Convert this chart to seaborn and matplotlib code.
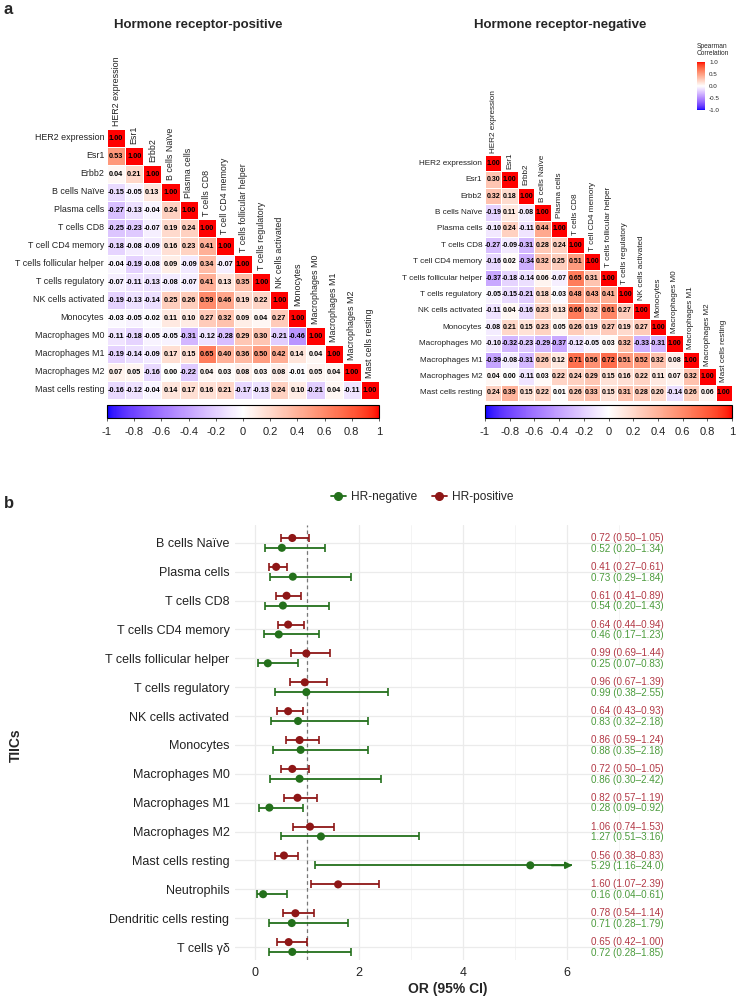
import numpy as np
import pandas as pd
import matplotlib
matplotlib.use("Agg")
import matplotlib.pyplot as plt
import seaborn as sns
from matplotlib import font_manager
from matplotlib.colors import LinearSegmentedColormap
from matplotlib.lines import Line2D

sns.set_theme(style="white")
_names = {f.name for f in font_manager.fontManager.ttflist}
NARROW = "Liberation Sans Narrow" if "Liberation Sans Narrow" in _names else "Liberation Sans"
plt.rcParams["font.family"] = ["Liberation Sans", "DejaVu Sans"]

# ---------------- data ----------------
heat_labels = ["HER2 expression", "Esr1", "Erbb2", "B cells Naïve", "Plasma cells",
               "T cells CD8", "T cell CD4 memory", "T cells follicular helper",
               "T cells regulatory", "NK cells activated", "Monocytes",
               "Macrophages M0", "Macrophages M1", "Macrophages M2", "Mast cells resting"]

hr_pos_lower = [
    [1.00],
    [0.53, 1.00],
    [0.04, 0.21, 1.00],
    [-0.15, -0.05, 0.13, 1.00],
    [-0.27, -0.13, -0.04, 0.24, 1.00],
    [-0.25, -0.23, -0.07, 0.19, 0.24, 1.00],
    [-0.18, -0.08, -0.09, 0.16, 0.23, 0.41, 1.00],
    [-0.04, -0.19, -0.08, 0.09, -0.09, 0.34, -0.07, 1.00],
    [-0.07, -0.11, -0.13, -0.08, -0.07, 0.41, 0.13, 0.35, 1.00],
    [-0.19, -0.13, -0.14, 0.25, 0.26, 0.59, 0.46, 0.19, 0.22, 1.00],
    [-0.03, -0.05, -0.02, 0.11, 0.10, 0.27, 0.32, 0.09, 0.04, 0.27, 1.00],
    [-0.11, -0.18, -0.05, -0.05, -0.31, -0.12, -0.28, 0.29, 0.30, -0.21, -0.46, 1.00],
    [-0.19, -0.14, -0.09, 0.17, 0.15, 0.65, 0.40, 0.36, 0.50, 0.42, 0.14, 0.04, 1.00],
    [0.07, 0.05, -0.16, 0.00, -0.22, 0.04, 0.03, 0.08, 0.03, 0.08, -0.01, 0.05, 0.04, 1.00],
    [-0.16, -0.12, -0.04, 0.14, 0.17, 0.16, 0.21, -0.17, -0.13, 0.24, 0.10, -0.21, 0.04, -0.11, 1.00],
]

hr_neg_lower = [
    [1.00],
    [0.30, 1.00],
    [0.32, 0.18, 1.00],
    [-0.19, 0.11, -0.08, 1.00],
    [-0.10, 0.24, -0.11, 0.44, 1.00],
    [-0.27, -0.09, -0.31, 0.28, 0.24, 1.00],
    [-0.16, 0.02, -0.34, 0.32, 0.25, 0.51, 1.00],
    [-0.37, -0.18, -0.14, 0.06, -0.07, 0.65, 0.31, 1.00],
    [-0.05, -0.15, -0.21, 0.18, -0.03, 0.48, 0.43, 0.41, 1.00],
    [-0.11, 0.04, -0.16, 0.23, 0.13, 0.66, 0.32, 0.61, 0.27, 1.00],
    [-0.08, 0.21, 0.15, 0.23, 0.05, 0.26, 0.19, 0.27, 0.19, 0.27, 1.00],
    [-0.10, -0.32, -0.23, -0.29, -0.37, -0.12, -0.05, 0.03, 0.32, -0.33, -0.31, 1.00],
    [-0.39, -0.08, -0.31, 0.26, 0.12, 0.71, 0.56, 0.72, 0.51, 0.52, 0.32, 0.08, 1.00],
    [0.04, 0.00, -0.11, 0.03, 0.22, 0.24, 0.29, 0.15, 0.16, 0.22, 0.11, 0.07, 0.32, 1.00],
    [0.24, 0.39, 0.15, 0.22, 0.01, 0.26, 0.33, 0.15, 0.31, 0.28, 0.20, -0.14, 0.26, 0.06, 1.00],
]

cbar_ticks = [-1, -0.8, -0.6, -0.4, -0.2, 0, 0.2, 0.4, 0.6, 0.8, 1]
cbar_tick_labels = ["-1", "-0.8", "-0.6", "-0.4", "-0.2", "0", "0.2", "0.4", "0.6", "0.8", "1"]
legend_ticks = [-1.0, -0.5, 0.0, 0.5, 1.0]

forest_cells = ["B cells Naïve", "Plasma cells", "T cells CD8", "T cells CD4 memory",
                "T cells follicular helper", "T cells regulatory", "NK cells activated",
                "Monocytes", "Macrophages M0", "Macrophages M1", "Macrophages M2",
                "Mast cells resting", "Neutrophils", "Dendritic cells resting", "T cells γδ"]
pos_or = [0.72, 0.41, 0.61, 0.64, 0.99, 0.96, 0.64, 0.86, 0.72, 0.82, 1.06, 0.56, 1.60, 0.78, 0.65]
pos_lo = [0.50, 0.27, 0.41, 0.44, 0.69, 0.67, 0.43, 0.59, 0.50, 0.57, 0.74, 0.38, 1.07, 0.54, 0.42]
pos_hi = [1.05, 0.61, 0.89, 0.94, 1.44, 1.39, 0.93, 1.24, 1.05, 1.19, 1.53, 0.83, 2.39, 1.14, 1.00]
neg_or = [0.52, 0.73, 0.54, 0.46, 0.25, 0.99, 0.83, 0.88, 0.86, 0.28, 1.27, 5.29, 0.16, 0.71, 0.72]
neg_lo = [0.20, 0.29, 0.20, 0.17, 0.07, 0.38, 0.32, 0.35, 0.30, 0.09, 0.51, 1.16, 0.04, 0.28, 0.28]
neg_hi = [1.34, 1.84, 1.43, 1.23, 0.83, 2.55, 2.18, 2.18, 2.42, 0.92, 3.16, 24.0, 0.61, 1.79, 1.85]
axis_cap = 6.1  # CIs beyond this are drawn as arrows

# ---------------- colours ----------------
_M = np.array([[0.4124, 0.3576, 0.1805], [0.2126, 0.7152, 0.0722], [0.0193, 0.1192, 0.9505]])
_WP = np.array([0.95047, 1.0, 1.08883])


def srgb_to_lab(rgb):
    c = np.asarray(rgb, float)
    lin = np.where(c <= 0.04045, c / 12.92, ((c + 0.055) / 1.055) ** 2.4)
    t = (_M @ lin) / _WP
    d = 6 / 29
    f = np.where(t > d ** 3, np.cbrt(t), t / (3 * d * d) + 4 / 29)
    return np.array([116 * f[1] - 16, 500 * (f[0] - f[1]), 200 * (f[1] - f[2])])


def lab_to_srgb(lab):
    L, a, b = lab
    fy = (L + 16) / 116
    f = np.array([fy + a / 500, fy, fy - b / 200])
    d = 6 / 29
    t = np.where(f > d, f ** 3, 3 * d * d * (f - 4 / 29))
    lin = np.clip(np.linalg.inv(_M) @ (t * _WP), 0, 1)
    c = np.where(lin <= 0.0031308, 12.92 * lin, 1.055 * lin ** (1 / 2.4) - 0.055)
    return np.clip(c, 0, 1)


_blue, _white, _red = srgb_to_lab([0, 0, 1]), srgb_to_lab([1, 1, 1]), srgb_to_lab([1, 0, 0])
_cols = []
for s in np.linspace(-1, 1, 201):
    end = _blue if s < 0 else _red
    _cols.append(lab_to_srgb(_white + abs(s) * (end - _white)))
cmap = LinearSegmentedColormap.from_list("corr", _cols)

RED_PT, GREEN_PT = "#8E1616", "#23701B"
RED_TX, GREEN_TX = "#B23845", "#4B9B3C"

# ---------------- figure ----------------
W, H = 738, 1000
fig = plt.figure(figsize=(W / 100, H / 100), dpi=100)


def box(x0, y0, x1, y1):
    return [x0 / W, 1 - y1 / H, (x1 - x0) / W, (y1 - y0) / H]


def draw_heat(ax, cax, rows, fs_lab, fs_val):
    n = len(heat_labels)
    mat = np.full((n, n), np.nan)
    for i, r in enumerate(rows):
        mat[i, :len(r)] = r
    df = pd.DataFrame(mat, index=heat_labels, columns=heat_labels)
    mask = np.triu(np.ones((n, n), bool), k=1)
    sns.heatmap(df, mask=mask, cmap=cmap, vmin=-1, vmax=1, annot=True, fmt=".2f",
                annot_kws=dict(size=fs_val, weight="bold", color="black"),
                linewidths=0.4, linecolor="white", cbar=True, cbar_ax=cax,
                cbar_kws=dict(orientation="horizontal", ticks=cbar_ticks),
                xticklabels=False, yticklabels=heat_labels, ax=ax)
    ax.tick_params(axis="y", length=0, pad=2, labelsize=fs_lab, labelcolor="#222222")
    for lab in ax.get_yticklabels():
        lab.set_rotation(0)
    for j, lab in enumerate(heat_labels):
        ax.text(j + 0.5, j - 0.15, lab, rotation=90, ha="center", va="bottom",
                fontsize=fs_lab, color="#222222")
    cb = ax.collections[0].colorbar
    cb.outline.set_edgecolor("black")
    cb.outline.set_linewidth(0.8)
    cax.set_xticks(cbar_ticks)
    cax.set_xticklabels(cbar_tick_labels, family=NARROW)
    cax.tick_params(axis="x", bottom=True, length=2.5, width=0.6, color="#444444",
                    labelsize=8, pad=4, labelcolor="#222222")
    return ax.collections[0]


axL = fig.add_axes(box(107, 129, 379, 399))
caxL = fig.add_axes(box(107, 405, 379, 418))
draw_heat(axL, caxL, hr_pos_lower, 6.4, 5.3)

axR = fig.add_axes(box(485, 155, 732, 401))
caxR = fig.add_axes(box(485, 405, 732, 418))
meshR = draw_heat(axR, caxR, hr_neg_lower, 5.9, 5.0)

# small legend colourbar
caxS = fig.add_axes(box(697, 62, 705, 110))
cbS = fig.colorbar(meshR, cax=caxS, ticks=legend_ticks)
cbS.outline.set_visible(False)
caxS.set_yticklabels([f"{t:.1f}" for t in legend_ticks], family=NARROW)
caxS.tick_params(axis="y", right=True, length=1.5, width=0.4, labelsize=4.5, pad=1.5,
                 color="white")
fig.text(697 / W, 1 - 50 / H, "Spearman\nCorrelation", fontsize=4.8, ha="left",
         va="center", family=NARROW, linespacing=1.0)

fig.text(198 / W, 1 - 25 / H, "Hormone receptor-positive", ha="center", va="center",
         fontweight="bold", fontsize=11.5 if NARROW != "Liberation Sans" else 9.5, family=NARROW)
fig.text(560 / W, 1 - 25 / H, "Hormone receptor-negative", ha="center", va="center",
         fontweight="bold", fontsize=11.5 if NARROW != "Liberation Sans" else 9.5, family=NARROW)
fig.text(4 / W, 1 - 9 / H, "a", fontweight="bold", fontsize=12, va="center", ha="left")
fig.text(4 / W, 1 - 503 / H, "b", fontweight="bold", fontsize=12, va="center", ha="left")

# ---------------- forest plot ----------------
axF = fig.add_axes(box(235, 525, 661, 960))
n = len(forest_cells)
ypos = np.arange(n)
off = 0.17
df = pd.concat([
    pd.DataFrame({"cell": forest_cells, "group": "HR-positive", "OR": pos_or,
                  "lo": pos_lo, "hi": pos_hi, "y": ypos - off}),
    pd.DataFrame({"cell": forest_cells, "group": "HR-negative", "OR": neg_or,
                  "lo": neg_lo, "hi": neg_hi, "y": ypos + off}),
])
palette = {"HR-positive": RED_PT, "HR-negative": GREEN_PT}
text_col = {"HR-positive": RED_TX, "HR-negative": GREEN_TX}


def fmt(v):
    return f"{v:.2f}" if v < 10 else f"{v:.1f}"


for g, sub in df.groupby("group"):
    c = palette[g]
    hi_draw = np.minimum(sub["hi"].values, axis_cap)
    axF.hlines(sub["y"], sub["lo"], hi_draw, color=c, lw=1.3, zorder=2)
    axF.plot(sub["lo"], sub["y"], ls="none", marker="|", ms=5.5, mew=1.2, color=c, zorder=2)
    keep = sub["hi"].values <= axis_cap
    axF.plot(sub["hi"].values[keep], sub["y"].values[keep], ls="none", marker="|", ms=5.5,
             mew=1.2, color=c, zorder=2)
    for yv in sub["y"].values[~keep]:
        axF.annotate("", xy=(axis_cap, yv), xytext=(axis_cap - 0.4, yv),
                     arrowprops=dict(arrowstyle="-|>", color=c, lw=1.3, mutation_scale=10,
                                     shrinkA=0, shrinkB=0), zorder=3)
    for _, r in sub.iterrows():
        axF.text(6.45, r["y"] + (0.03 if g == "HR-negative" else 0.0),
                 f"{fmt(r['OR'])} ({fmt(r['lo'])}–{fmt(r['hi'])})",
                 color=text_col[g], fontsize=7.1, va="center", ha="left", clip_on=False)

sns.scatterplot(data=df, x="OR", y="y", hue="group", palette=palette, s=34,
                linewidth=0, legend=False, ax=axF, zorder=4)

axF.axvline(1, color="#777777", ls=(0, (3, 2.5)), lw=0.9, zorder=1)
axF.set_xlim(-0.38, 7.8)
axF.set_ylim(14.45, -0.62)
axF.set_yticks(ypos)
axF.set_yticklabels(forest_cells)
axF.set_xticks([0, 2, 4, 6])
axF.set_xticks([1, 3, 5, 7], minor=True)
axF.grid(True, which="major", color="#EBEBEB", lw=0.9)
axF.grid(True, which="minor", axis="x", color="#F3F3F3", lw=0.6)
axF.set_axisbelow(True)
for s in axF.spines.values():
    s.set_visible(False)
axF.tick_params(axis="both", which="both", length=0, labelsize=9, labelcolor="#222222")
axF.tick_params(axis="y", pad=4)
axF.tick_params(axis="x", pad=5)
axF.set_xlabel("OR (95% CI)", fontweight="bold", fontsize=10, labelpad=2)
axF.set_ylabel("")
fig.text(16 / W, 1 - 745 / H, "TIICs", rotation=90, fontweight="bold", fontsize=10,
         ha="center", va="center")

handles = [Line2D([0], [0], color=GREEN_PT, marker="o", ms=5.5, lw=1.3),
           Line2D([0], [0], color=RED_PT, marker="o", ms=5.5, lw=1.3)]
fig.legend(handles, ["HR-negative", "HR-positive"], loc="center",
           bbox_to_anchor=(422 / W, 1 - 497 / H), ncol=2, frameon=False, fontsize=8.6,
           handlelength=1.3, columnspacing=1.2, handletextpad=0.4)

fig.savefig("out.png", dpi=100)
